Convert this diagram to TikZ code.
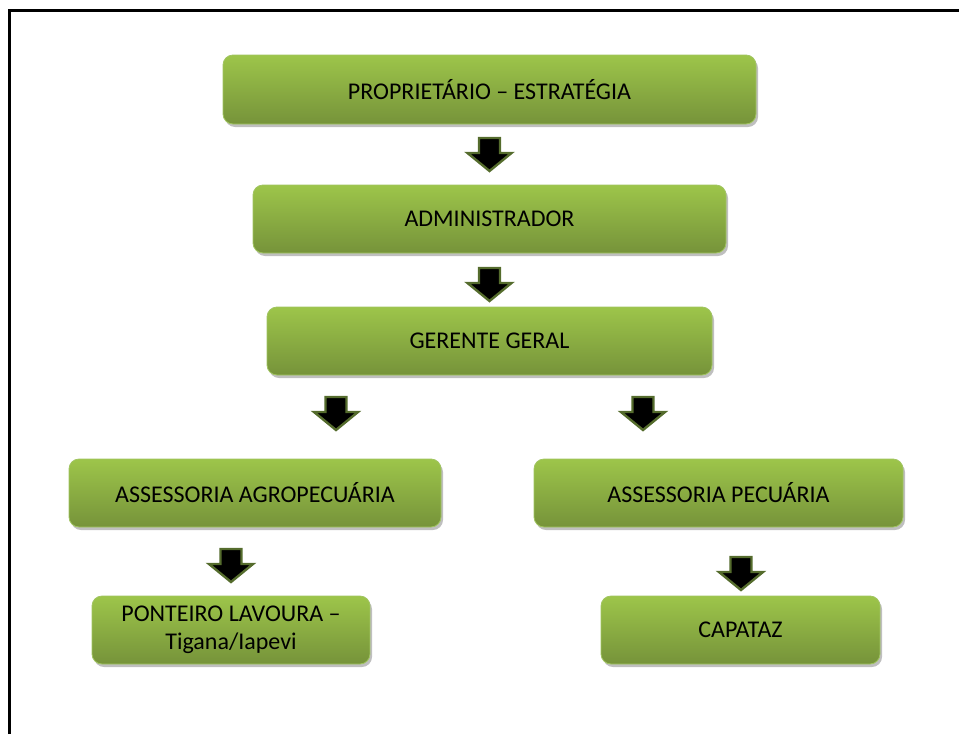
\documentclass[tikz,border=0pt]{standalone}
\usepackage{fontspec}
\setmainfont{Carlito}
\usetikzlibrary{shadows}
\definecolor{gtop}{RGB}{157,197,74}
\definecolor{gbot}{RGB}{118,147,58}
\definecolor{gedge}{RGB}{160,196,96}
\definecolor{olive}{RGB}{85,108,45}
\tikzset{
  orgbox/.style={rounded corners=10pt, top color=gtop, bottom color=gbot, draw=gedge, line width=0.8pt,
    drop shadow={shadow xshift=2pt, shadow yshift=-3pt, fill=black, opacity=0.25},
    font=\fontsize{24}{27.5}\selectfont, text=black, align=center, inner sep=0pt},
  arrowshape/.style={fill=black, draw=olive, line width=2.4pt, line join=miter},
  downarrow/.pic={\path[arrowshape] (-10.5,0) -- (10.5,0) -- (10.5,15) -- (22,15) -- (0,33) -- (-22,15) -- (-10.5,15) -- cycle;}
}
\begin{document}
\begin{tikzpicture}[x=1pt, y=-1pt]
\useasboundingbox (0,0) rectangle (959,734);
\draw[line width=3pt] (9.5,734) -- (9.5,10) -- (959,10);
\node[orgbox, minimum width=533pt, minimum height=69pt] (prop) at (489.5,89.5) {PROPRIETÁRIO – ESTRATÉGIA};
\node[orgbox, minimum width=473pt, minimum height=68pt] (adm) at (489.5,219) {ADMINISTRADOR};
\node[orgbox, minimum width=445pt, minimum height=68pt] (ger) at (489.5,341) {GERENTE GERAL};
\node[orgbox, minimum width=372pt, minimum height=68pt] (agro) at (255,493) {ASSESSORIA AGROPECUÁRIA};
\node[orgbox, minimum width=369pt, minimum height=68pt] (pec) at (718.5,493) {ASSESSORIA PECUÁRIA};
\node[orgbox, minimum width=278pt, minimum height=68pt] (pont) at (231,630) {PONTEIRO LAVOURA –\\Tigana/Iapevi};
\node[orgbox, minimum width=279pt, minimum height=68pt] (cap) at (740.5,630) {CAPATAZ};
\coordinate (a1) at (489.5,138);
\coordinate (a2) at (489.5,268);
\coordinate (a3) at (336,397);
\coordinate (a4) at (643,397);
\coordinate (a5) at (231,549);
\coordinate (a6) at (741,557);
\foreach \c in {a1,a2,a3,a4,a5,a6} \pic at (\c) {downarrow};
\end{tikzpicture}
\end{document}
